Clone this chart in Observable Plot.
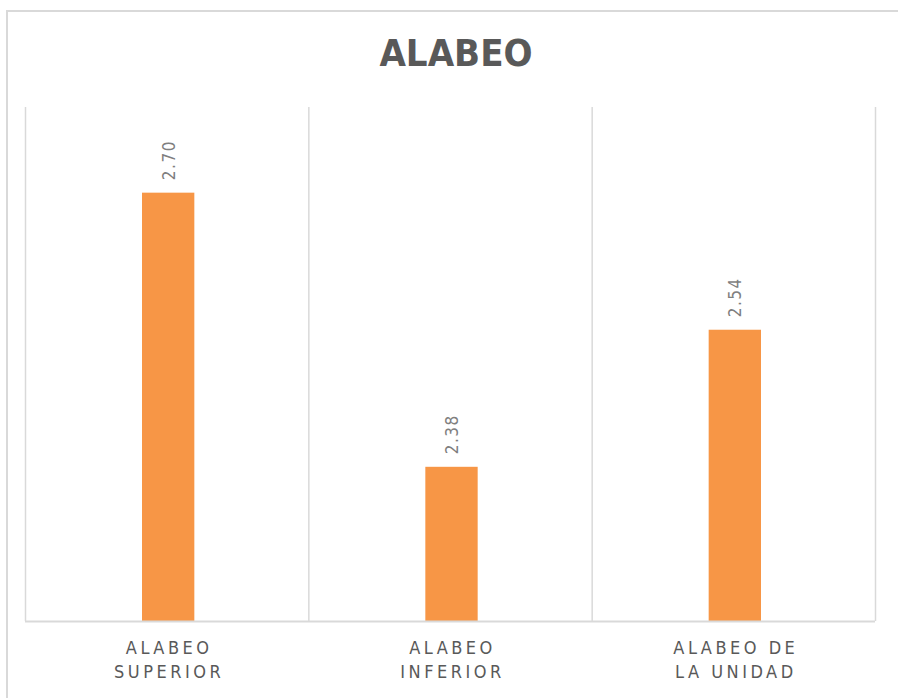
<!DOCTYPE html>
<html>
<head>
<meta charset="utf-8">
<script src="https://cdn.jsdelivr.net/npm/d3@7"></script>
<script src="https://cdn.jsdelivr.net/npm/@observablehq/plot@0.6"></script>
<style>
  html, body { margin: 0; padding: 0; background: #fff; overflow: hidden; width: 898px; height: 698px; }
  #frame { position: absolute; left: 6px; top: 10px; width: 2000px; height: 2000px; border: 2px solid #d9d9d9; box-sizing: border-box; }
  #title { position: absolute; left: 0; top: 0; width: 912px; height: 107px; text-align: center; font-family: "Liberation Sans Narrow", "DejaVu Sans Condensed", "Liberation Sans", sans-serif; font-weight: bold; font-size: 38px; letter-spacing: 0px; color: #595959; line-height: 106px; }
  #chart { position: absolute; left: 0; top: 107px; }
</style>
</head>
<body>
<div id="frame"></div>
<div id="title">ALABEO</div>
<div id="chart"></div>
<script>
const categories = ["ALABEO SUPERIOR", "ALABEO INFERIOR", "ALABEO DE LA UNIDAD"];
const labelLines = ["ALABEO\nSUPERIOR", "ALABEO\nINFERIOR", "ALABEO DE\nLA UNIDAD"];
const values = [2.70, 2.38, 2.54];
const yMin = 2.2, yMax = 2.8;

const data = categories.map((c, i) => ({cat: c, label: labelLines[i], i, value: values[i]}));
const font = "Liberation Sans Narrow, DejaVu Sans Condensed, sans-serif";

const chart = Plot.plot({
  width: 898,
  height: 591,
  marginLeft: 25,
  marginRight: 23,
  marginTop: 0,
  marginBottom: 77,
  x: {domain: [0, categories.length], axis: null},
  y: {domain: [yMin, yMax], axis: null},
  marks: [
    Plot.ruleX(d3.range(categories.length + 1), {stroke: "#d9d9d9", strokeWidth: 1.5}),
    Plot.rectY(data, {x1: "i", x2: d => d.i + 1, y1: yMin, y2: "value", fill: "#F79646", insetLeft: 117, insetRight: 114}),
    Plot.ruleY([yMin], {stroke: "#d9d9d9", strokeWidth: 2}),
    Plot.text(data, {x: d => d.i + 0.5, y: "value", text: d => d.value.toFixed(2), rotate: -90, textAnchor: "start", dx: 2, dy: -13, fill: "#7f7f7f", fontSize: 17, fontFamily: font}),
    Plot.text(data, {x: d => d.i + 0.5, y: yMin, text: "label", lineAnchor: "top", dy: 15, dx: 2, lineHeight: 1.333, fill: "#595959", fontSize: 18, fontFamily: font})
  ]
});
const textGroups = chart.querySelectorAll('g[aria-label="text"]');
if (textGroups[0]) textGroups[0].style.letterSpacing = "1.5px";
if (textGroups[1]) textGroups[1].style.letterSpacing = "3.5px";
document.getElementById("chart").appendChild(chart);
</script>
</body>
</html>
